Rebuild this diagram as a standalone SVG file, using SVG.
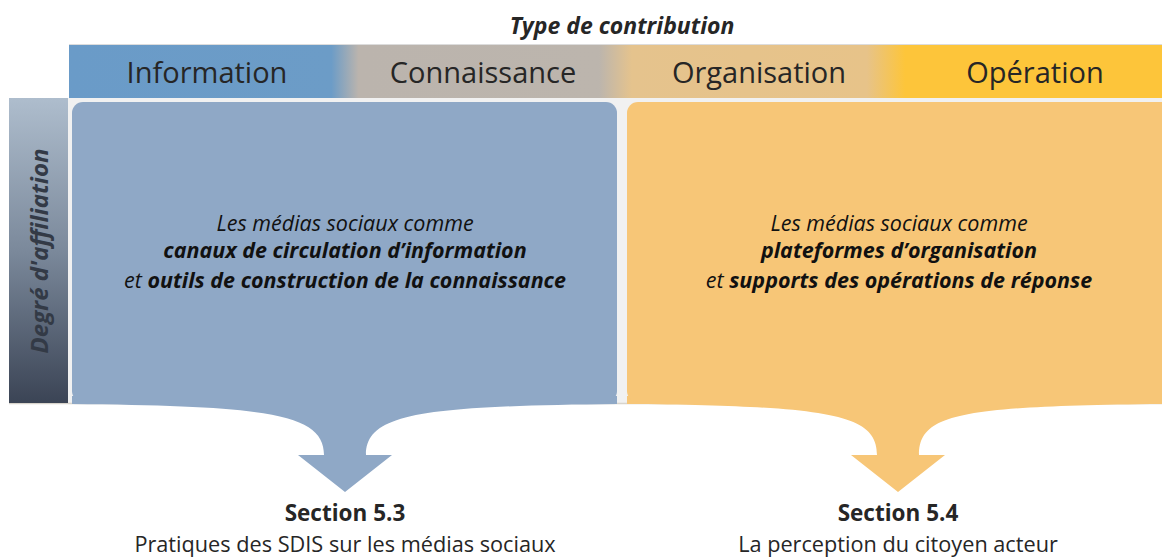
<svg xmlns="http://www.w3.org/2000/svg" width="1162" height="557" viewBox="0 0 1162 557">
<style>
  text { font-family: "Open Sans", "Liberation Sans", sans-serif; fill: #262626; }
  .hdr { font-size: 29px; text-anchor: middle; }
  .title { font-size: 23px; font-weight: bold; font-style: italic; text-anchor: middle; }
  .axis { font-size: 24px; font-weight: bold; font-style: italic; text-anchor: middle; fill: #333a46; }
  .box { font-size: 21.5px; font-style: italic; text-anchor: middle; fill: #111; }
  .b { font-weight: bold; }
  .sec { font-size: 22.5px; font-weight: bold; text-anchor: middle; }
  .sub { font-size: 21.7px; text-anchor: middle; }
</style>
<defs>
  <linearGradient id="gHdr" gradientUnits="userSpaceOnUse" x1="69" y1="0" x2="1162" y2="0">
    <stop offset="0" stop-color="#6a9bc8"/>
    <stop offset="0.24" stop-color="#6c9cc7"/>
    <stop offset="0.265" stop-color="#bbb4ad"/>
    <stop offset="0.485" stop-color="#bcb5ad"/>
    <stop offset="0.515" stop-color="#e5c38d"/>
    <stop offset="0.73" stop-color="#e7c389"/>
    <stop offset="0.765" stop-color="#fdc53a"/>
    <stop offset="1" stop-color="#fdc53a"/>
  </linearGradient>
  <linearGradient id="gBar" x1="0" y1="0" x2="0" y2="1">
    <stop offset="0" stop-color="#aebdcd"/>
    <stop offset="0.5" stop-color="#7b899b"/>
    <stop offset="1" stop-color="#3b4455"/>
  </linearGradient>
</defs>

<text class="title" x="622" y="34">Type de contribution</text>

<g id="header">
  <rect x="69" y="44" width="1093" height="54" fill="url(#gHdr)"/>
  <line x1="69" y1="44.5" x2="1162" y2="44.5" stroke="#dcdcdc" stroke-width="1"/>
  <g id="col-information"><text class="hdr" x="207" y="83">Information</text></g>
  <g id="col-connaissance"><text class="hdr" x="483" y="83">Connaissance</text></g>
  <g id="col-organisation"><text class="hdr" x="759" y="83">Organisation</text></g>
  <g id="col-operation"><text class="hdr" x="1035" y="83">Opération</text></g>
</g>

<rect x="9" y="98" width="1153" height="306" fill="#f1f1f1"/>
<line x1="9" y1="403.5" x2="1162" y2="403.5" stroke="#d8d4cc" stroke-width="1.5"/>

<g id="axis-affiliation">
  <rect x="9" y="98" width="59" height="305" fill="url(#gBar)"/>
  <text class="axis" transform="translate(48 251) rotate(-90)">Degré d'affiliation</text>
</g>

<g id="connectors">
  <path d="M72,396 L617,396 L617,404 C420,406 366,414 366,455 L392,455 L345,492 L298,455 L324,455 C324,414 270,406 72,404 Z" fill="#8fa8c6"/>
  <path d="M627,396 L1162,396 L1162,404 C960,406 919,414 919,455 L945,455 L898,492 L851,455 L877,455 C877,414 830,406 627,404 Z" fill="#f7c677"/>
</g>

<g id="box-left">
  <rect x="72" y="102" width="545" height="300" rx="11" fill="#8fa8c6"/>
  <text class="box" x="345" y="231">Les médias sociaux comme</text>
  <text class="box b" x="345" y="258">canaux de circulation d’information</text>
  <text class="box" x="345" y="288">et <tspan class="b">outils de construction de la connaissance</tspan></text>
</g>

<g id="box-right">
  <rect x="627" y="102" width="560" height="300" rx="11" fill="#f7c677"/>
  <text class="box" x="899" y="231">Les médias sociaux comme</text>
  <text class="box b" x="899" y="258">plateformes d’organisation</text>
  <text class="box" x="899" y="288">et <tspan class="b">supports des opérations de réponse</tspan></text>
</g>

<g id="section-53">
  <text class="sec" x="345" y="521">Section 5.3</text>
  <text class="sub" x="345" y="552">Pratiques des SDIS sur les médias sociaux</text>
</g>
<g id="section-54">
  <text class="sec" x="898" y="521">Section 5.4</text>
  <text class="sub" x="898" y="552">La perception du citoyen acteur</text>
</g>
</svg>
